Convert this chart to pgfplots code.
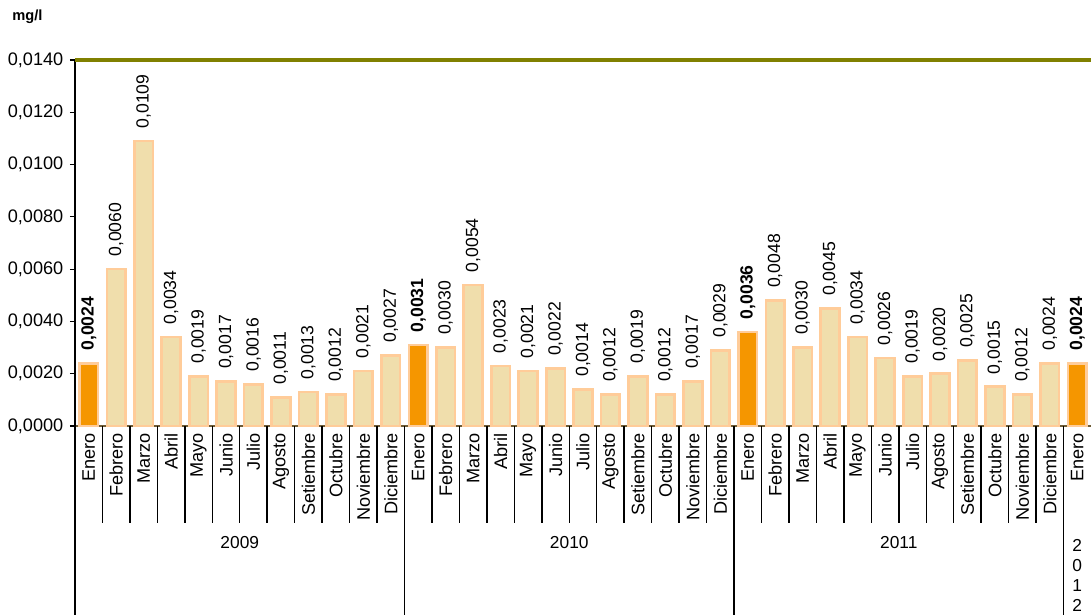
\documentclass[border=0pt]{standalone}
\usepackage{pgfplots}
\pgfplotsset{compat=1.18}
\usepackage{fontspec}
\setmainfont{Liberation Sans}
\definecolor{barfill}{RGB}{240,222,172}
\definecolor{barline}{RGB}{255,204,153}
\definecolor{hifill}{RGB}{245,150,0}
\definecolor{olivetop}{RGB}{128,128,0}
\definecolor{xaxiscol}{RGB}{110,92,55}
\begin{document}
\begin{tikzpicture}
\useasboundingbox (0,0) rectangle (818.25pt,-460.5pt);
\node[font=\bfseries\fontsize{11}{12}\selectfont, anchor=west, inner sep=0pt] at (9pt,-12.75pt) {mg/l};
\begin{axis}[
  at={(56.25pt,-319.5pt)}, anchor=south west,
  scale only axis, width=762pt, height=274.5pt,
  xmin=-0.5, xmax=36.5, ymin=0, ymax=0.014,
  clip=false,
  axis x line*=bottom, axis y line*=left,
  x axis line style={-, draw=xaxiscol, line width=1.3pt},
  y axis line style={-, draw=black, line width=1.4pt},
  tick align=outside,
  major tick length=3.75pt,
  ytick={0,0.002,0.004,0.006,0.008,0.010,0.012,0.014},
  scaled y ticks=false,
  ytick style={black, line width=0.9pt},
  /pgf/number format/assume math mode=true,
  yticklabel style={/pgf/number format/.cd, fixed, fixed zerofill, precision=4, use comma, /tikz/.cd, font=\fontsize{13.6}{15}\selectfont, xshift=-1.5pt},
  xtick={0,...,36},
  xtick style={draw=none},
  xticklabels={Enero,Febrero,Marzo,Abril,Mayo,Junio,Julio,Agosto,Setiembre,Octubre,Noviembre,Diciembre,
               Enero,Febrero,Marzo,Abril,Mayo,Junio,Julio,Agosto,Setiembre,Octubre,Noviembre,Diciembre,
               Enero,Febrero,Marzo,Abril,Mayo,Junio,Julio,Agosto,Setiembre,Octubre,Noviembre,Diciembre,
               Enero},
  xticklabel style={rotate=90, anchor=east, inner sep=1.5pt, font=\fontsize{13.6}{15}\selectfont},
  nodes near coords={\pgfmathprintnumber[fixed,fixed zerofill,precision=4,use comma]{\pgfplotspointmeta}},
  every node near coord/.append style={rotate=90, anchor=west, inner sep=8.5pt, font=\fontsize{13.2}{15}\selectfont, text=black},
]
\pgfplotsinvokeforeach{-0.5,0.5,1.5,2.5,3.5,4.5,5.5,6.5,7.5,8.5,9.5,10.5,12.5,13.5,14.5,15.5,16.5,17.5,18.5,19.5,20.5,21.5,22.5,24.5,25.5,26.5,27.5,28.5,29.5,30.5,31.5,32.5,33.5,34.5}{
  \draw[black, line width=1.1pt] (axis cs:#1,0) -- ([yshift=-72.75pt]axis cs:#1,0);
}
\pgfplotsinvokeforeach{-0.5,11.5,23.5,35.5}{
  \draw[black, line width=1.2pt] (axis cs:#1,0) -- ([yshift=-145pt]axis cs:#1,0);
}
\addplot[ybar, bar width=0.68, bar shift=0pt, fill=barfill, draw=barline, line width=2pt] coordinates {
 (1,0.0060) (2,0.0109) (3,0.0034) (4,0.0019) (5,0.0017) (6,0.0016) (7,0.0011) (8,0.0013) (9,0.0012) (10,0.0021) (11,0.0027)
 (13,0.0030) (14,0.0054) (15,0.0023) (16,0.0021) (17,0.0022) (18,0.0014) (19,0.0012) (20,0.0019) (21,0.0012) (22,0.0017) (23,0.0029)
 (25,0.0048) (26,0.0030) (27,0.0045) (28,0.0034) (29,0.0026) (30,0.0019) (31,0.0020) (32,0.0025) (33,0.0015) (34,0.0012) (35,0.0024)
};
\addplot[ybar, bar width=0.68, bar shift=0pt, fill=hifill, draw=barline, line width=2pt,
  every node near coord/.append style={font=\bfseries\fontsize{13.2}{15}\selectfont}] coordinates {
 (0,0.0024) (12,0.0031) (24,0.0036) (36,0.0024)
};
\draw[olivetop, line width=2.5pt] (rel axis cs:0,1) -- (rel axis cs:1,1);
\node[font=\fontsize{13}{15}\selectfont] at ([yshift=-87.75pt]axis cs:5.5,0) {2009};
\node[font=\fontsize{13}{15}\selectfont] at ([yshift=-87.75pt]axis cs:17.5,0) {2010};
\node[font=\fontsize{13}{15}\selectfont] at ([yshift=-87.75pt]axis cs:29.5,0) {2011};
\node[font=\fontsize{13}{15}\selectfont, align=center, anchor=north, inner sep=0pt] at ([yshift=-84.5pt]axis cs:36,0) {2\\0\\1\\2};
\end{axis}
\end{tikzpicture}
\end{document}
